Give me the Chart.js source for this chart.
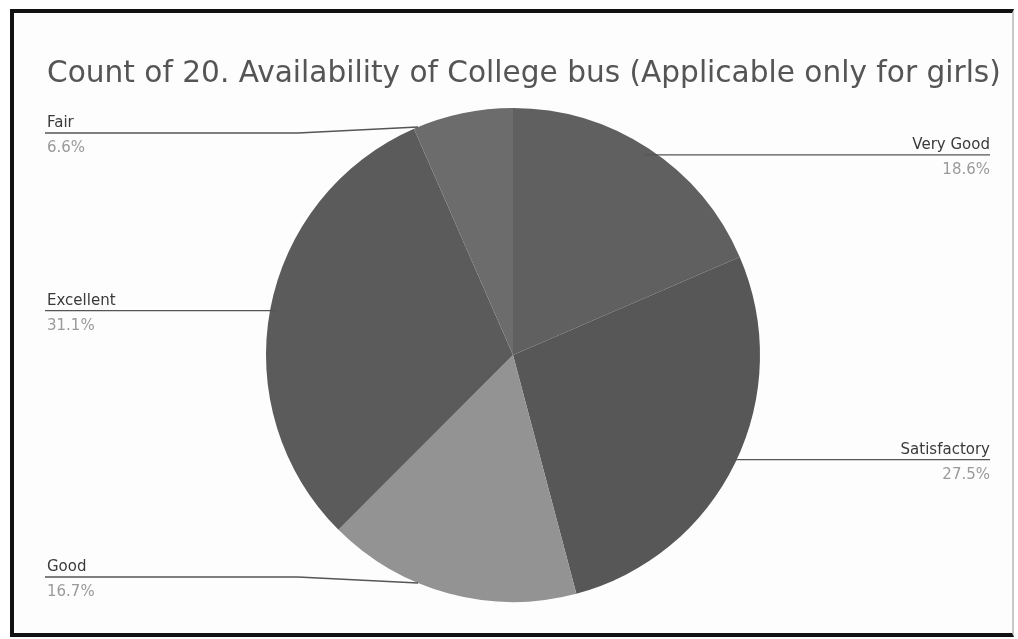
<!DOCTYPE html>
<html>
<head>
<meta charset="utf-8">
<script src="https://cdn.jsdelivr.net/npm/chart.js@4.4.1/dist/chart.umd.min.js"></script>
<style>
    html, body { margin: 0; padding: 0; background: #ffffff; }
    #wrap { position: relative; width: 1018px; height: 639px; }
    #frame {
        position: absolute; left: 10px; top: 9px; width: 998px; height: 620px;
        border-top: 4px solid #111; border-left: 4px solid #111; border-bottom: 4px solid #111;
        border-right: 2px solid #c8c8c8; background: #fdfdfd;
    }
    canvas { position: absolute; left: 0; top: 0; }
</style>
</head>
<body>
<div id="wrap">
    <div id="frame"></div>
    <canvas id="pieChart" width="1018" height="639"></canvas>
</div>
<script>
const title = 'Count of 20. Availability of College bus (Applicable only for girls)';
const categories = ['Very Good', 'Satisfactory', 'Good', 'Excellent', 'Fair'];
const shares = [18.6, 27.5, 16.7, 31.1, 6.6];
const sliceColors = ['#606060', '#575757', '#939393', '#5b5b5b', '#6c6c6c'];

// подписи снаружи с выносными линиями, как в Google Charts
const outsideLabels = {
    id: 'outsideLabels',
    afterDraw(chart) {
        const ctx = chart.ctx;
        const area = chart.chartArea;
        const meta = chart.getDatasetMeta(0);

        ctx.save();
        ctx.fillStyle = '#555555';
        ctx.textBaseline = 'alphabetic';
        ctx.textAlign = 'left';
        // подгоняем размер заголовка под ширину оригинала
        ctx.font = '24px "DejaVu Sans", sans-serif';
        const size = 24 * 953 / ctx.measureText(title).width;
        ctx.font = size.toFixed(1) + 'px "DejaVu Sans", sans-serif';
        ctx.fillText(title, 47, 82);

        meta.data.forEach((arc, i) => {
            const mid = (arc.startAngle + arc.endAngle) / 2;
            const r = arc.outerRadius;
            let ax = arc.x + Math.cos(mid) * r * 0.97;
            let ay = arc.y + Math.sin(mid) * r * 0.97;
            const right = Math.cos(mid) > 0;
            const ly = Math.min(Math.max(ay, area.top + 25), area.bottom - 25);
            const textX = right ? 990 : 45;

            if (Math.abs(ly - ay) > 3) {
                // линия уходит к краю круга чуть выше/ниже подписи
                ay = ly + (ay < ly ? -6 : 6);
                const dx = Math.sqrt(Math.max(r * r - (ay - arc.y) ** 2, 0));
                ax = arc.x + (right ? dx : -dx);
            }

            ctx.strokeStyle = '#555555';
            ctx.lineWidth = 1.3;
            ctx.beginPath();
            ctx.moveTo(textX, ly);
            ctx.lineTo(right ? ax + 150 : Math.min(ax - 120, 300), ly);
            ctx.lineTo(ax, ay);
            ctx.stroke();

            ctx.textAlign = right ? 'right' : 'left';
            ctx.font = '15px "DejaVu Sans", sans-serif';
            ctx.fillStyle = '#3a3a3a';
            ctx.fillText(categories[i], textX + (right ? 0 : 2), ly - 6);
            ctx.fillStyle = '#9a9a9a';
            ctx.fillText(shares[i].toFixed(1) + '%', textX + (right ? 0 : 2), ly + 19);
        });
        ctx.restore();
    }
};

new Chart(document.getElementById('pieChart'), {
    type: 'pie',
    data: {
        labels: categories,
        datasets: [{
            data: shares,
            backgroundColor: sliceColors,
            borderWidth: 0
        }]
    },
    options: {
        responsive: false,
        animation: false,
        layout: {
            padding: { top: 108, bottom: 37, left: 266, right: 258 }
        },
        plugins: {
            legend: { display: false },
            tooltip: { enabled: false }
        }
    },
    plugins: [outsideLabels]
});
</script>
</body>
</html>
